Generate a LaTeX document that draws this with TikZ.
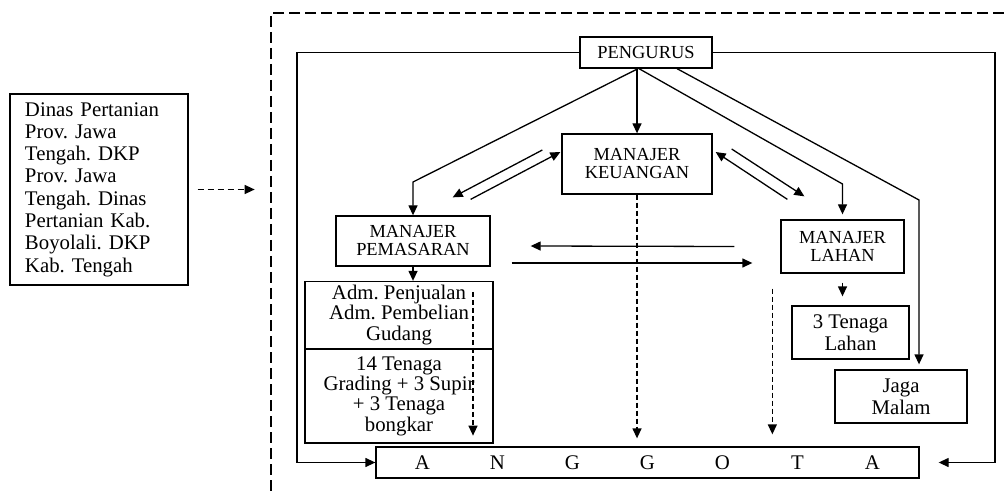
\documentclass[tikz,border=0pt]{standalone}
\usepackage{fontspec}
\setmainfont{Liberation Serif}
\usetikzlibrary{arrows.meta}
\frenchspacing
\newcommand{\lineWidth}[0]{0.65pt}
\newcommand{\bodyFont}[0]{\fontsize{10.4}{10.2}\selectfont}
\newcommand{\capsFont}[0]{\fontsize{9.2}{9}\selectfont}
\newcommand{\letterSlot}[1]{\makebox[37.5pt]{#1}}

\begin{document}
\begin{tikzpicture}[x=0.5pt, y=-0.5pt, line width=\lineWidth]
  \tikzset{box/.style={draw, inner sep=0pt, align=center, font=\bodyFont},
    capsbox/.style={box, font=\capsFont},
    arr/.style={-{Triangle[length=5pt,width=4.5pt]}},
    dasharr/.style={arr, dash pattern=on 2.5pt off 1.5pt}}
  \useasboundingbox (0,0) rectangle (1004,491);
  \node[box, align=left, text width=74pt, inner xsep=7.5pt, minimum height=95.5pt,
    font=\fontsize{10.4}{11.15}\selectfont] (dinas) at (99,189.5)
    {Dinas Pertanian\\Prov. Jawa\\Tengah. DKP\\Prov. Jawa\\Tengah. Dinas\\Pertanian Kab.\\Boyolali. DKP\\Kab. Tengah};
  \node[capsbox, minimum width=66pt, minimum height=15.5pt] (pengurus) at (646,52.5) {PENGURUS};
  \node[capsbox, minimum width=75pt, minimum height=30pt] (keuangan) at (637,164) {MANAJER\\KEUANGAN};
  \node[capsbox, minimum width=77pt, minimum height=25pt] (pemasaran) at (413,241) {MANAJER\\PEMASARAN};
  \node[capsbox, minimum width=61.5pt, minimum height=26.5pt] (lahan) at (842.5,246.5) {MANAJER\\LAHAN};
  \node[box, minimum width=58.5pt, minimum height=26.5pt, font=\fontsize{10.4}{11}\selectfont] (tenaga) at (850.5,332.5) {3 Tenaga\\Lahan};
  \node[box, minimum width=66pt, minimum height=26.5pt, font=\fontsize{10.4}{11}\selectfont] (jaga) at (901,396.5) {Jaga\\Malam};
  \node[box, minimum width=94pt, minimum height=33.5pt] (adm) at (399,315) {Adm. Penjualan\\Adm. Pembelian\\Gudang};
  \node[box, minimum width=94pt, minimum height=47pt] (bongkar) at (399,396) {14 Tenaga\\Grading + 3 Supir\\+ 3 Tenaga\\bongkar};
  \node[box, minimum width=271.5pt, minimum height=15.5pt] (anggota) at (647.5,462.5)
    {\letterSlot{A}\letterSlot{N}\letterSlot{G}\letterSlot{G}\letterSlot{O}\letterSlot{T}\letterSlot{A}};
  \coordinate (ftl) at (297,52.5);
  \coordinate (fbl) at (297,462.5);
  \coordinate (ftr) at (995,52.5);
  \coordinate (fbr) at (995,462.5);
  \coordinate (bendpem) at (413,182);
  \coordinate (bendlah) at (842.5,184);
  \coordinate (bendjaga) at (919,200);
  \coordinate (dashtop) at ([shift={(-4pt,-7.5pt)}]lahan.south west);
  \draw[dash pattern=on 5.5pt off 2.5pt] (1004,13) -- (271,13) -- (271,491);
  \draw[dasharr, dash pattern=on 3pt off 2pt] ([xshift=4.5pt]dinas.east) -- ([xshift=33pt]dinas.east);
  \draw[arr] (pengurus.west) -- (ftl) -- (fbl) -- (anggota.west);
  \draw[arr, shorten >=9.5pt] (pengurus.east) -- (ftr) -- (fbr) -- (anggota.east);
  \draw[arr] ([xshift=-4pt]pengurus.south) -- (bendpem) -- (pemasaran.north);
  \draw[arr] (pengurus.south -| keuangan.north) -- (keuangan.north);
  \draw[arr, shorten >=2.5pt] ([xshift=-3.5pt]pengurus.south) -- (bendlah) -- (lahan.north);
  \draw[arr, shorten >=2.5pt] ([xshift=15.5pt]pengurus.south) -- (bendjaga) -- ([xshift=9pt]jaga.north);
  \draw[arr] ([shift={(-9.5pt,7pt)}]keuangan.west) -- ([shift={(-19pt,9pt)}]pemasaran.north east);
  \draw[arr] ([shift={(-10pt,8pt)}]pemasaran.north east) -- ([shift={(-0.5pt,6pt)}]keuangan.west);
  \draw[arr] ([shift={(3.5pt,10pt)}]lahan.north west) -- ([shift={(1.5pt,6pt)}]keuangan.east);
  \draw[arr] ([shift={(9.5pt,7.5pt)}]keuangan.east) -- ([shift={(12pt,11.5pt)}]lahan.north west);
  \draw[arr] ([xshift=-23pt]lahan.west) -- ([shift={(20pt,-2.5pt)}]pemasaran.east);
  \draw[arr] ([shift={(10.5pt,-11pt)}]pemasaran.east) -- ([shift={(-14pt,-8.25pt)}]lahan.west);
  \draw[arr] (pemasaran.south) -- (pemasaran.south |- adm.north);
  \draw[arr, shorten <=4.5pt, shorten >=4.5pt] (lahan.south) -- (lahan.south |- tenaga.north);
  \draw[dasharr, shorten <=5.5pt, shorten >=4pt] ([xshift=37pt]adm.north) -- ([xshift=37pt]bongkar.south);
  \draw[dasharr, shorten >=4pt] (keuangan.south) -- (keuangan.south |- anggota.north);
  \draw[dasharr, shorten >=6pt] (dashtop) -- (dashtop |- anggota.north);
\end{tikzpicture}
\end{document}
